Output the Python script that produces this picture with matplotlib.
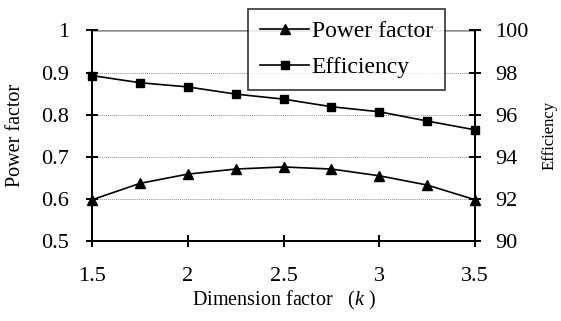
import matplotlib
matplotlib.use("Agg")
from matplotlib import pyplot as plt
import numpy as np

k = [1.5, 1.75, 2.0, 2.25, 2.5, 2.75, 3.0, 3.25, 3.5]
power_factor = [0.598, 0.637, 0.659, 0.671, 0.676, 0.671, 0.655, 0.633, 0.598]
efficiency = [97.86, 97.52, 97.32, 96.98, 96.74, 96.38, 96.14, 95.70, 95.28]

x_ticks = [1.5, 2, 2.5, 3, 3.5]
pf_ticks = [0.5, 0.6, 0.7, 0.8, 0.9, 1.0]
pf_labels = ["0.5", "0.6", "0.7", "0.8", "0.9", "1"]
eff_ticks = [90, 92, 94, 96, 98, 100]

plt.rcParams['font.family'] = ['Liberation Serif', 'DejaVu Serif']
plt.rcParams['mathtext.fontset'] = 'custom'
plt.rcParams['mathtext.rm'] = 'Liberation Serif'
plt.rcParams['mathtext.it'] = 'Liberation Serif:italic'

fig = plt.figure(figsize=(5.61, 3.21), dpi=100)
ax = fig.add_axes([0.164, 0.249, 0.683, 0.656])
ax2 = ax.twinx()

# grid lines
for v in pf_ticks[1:-1]:
    ax.axhline(v, color="#909090", lw=0.7, ls=(0, (1, 1)), zorder=0)
ax.axhline(1.0, color="#909090", lw=1.8, zorder=0)

l1, = ax.plot(k, power_factor, color="black", lw=1.2, marker="^", ms=6.5,
              label="Power factor", clip_on=False, zorder=5)
l2, = ax2.plot(k, efficiency, color="black", lw=1.2, marker="s", ms=5.5,
               label="Efficiency", clip_on=False, zorder=5)

ax.set_xlim(1.5, 3.5)
ax.set_ylim(0.5, 1.0)
ax2.set_ylim(90, 100)
ax.set_xticks(x_ticks)
ax.set_xticklabels([str(t) for t in x_ticks])
ax.set_yticks(pf_ticks)
ax.set_yticklabels(pf_labels)
ax2.set_yticks(eff_ticks)

for a in (ax, ax2):
    a.spines["top"].set_visible(False)
    for s in a.spines.values():
        s.set_linewidth(1.4)
    a.tick_params(direction="inout", length=9, width=1.4, labelsize=16)
ax.tick_params(axis="x", pad=14)
ax.tick_params(axis="y", pad=12)
ax2.tick_params(axis="y", pad=10)

ax.set_xlabel("Dimension factor   ($k$ )", fontsize=14.5, labelpad=2)
ax.set_ylabel("Power factor", fontsize=14.5, labelpad=12)
ax2.set_ylabel("Efficiency", fontsize=12, labelpad=9)

leg = fig.legend(handles=[l1, l2], loc="upper left",
                 bbox_to_anchor=(248 / 561, 1 - 9 / 321),
                 bbox_transform=fig.transFigure, borderaxespad=0,
                 fontsize=17, frameon=True, fancybox=False,
                 handlelength=2.1, handletextpad=0.1, labelspacing=0.6,
                 borderpad=0.5)
leg.get_frame().set_edgecolor("black")
leg.get_frame().set_linewidth(1.2)
leg.set_zorder(10)

fig.savefig("out.png", dpi=100)
